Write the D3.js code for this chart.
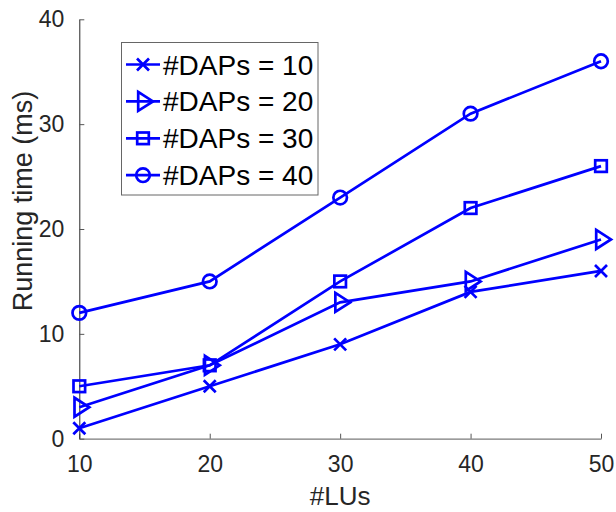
<!DOCTYPE html>
<html>
<head>
<meta charset="utf-8">
<script src="https://cdn.jsdelivr.net/npm/d3@7"></script>
<style>
  body { margin: 0; background: #fff; }
  svg { display: block; font-family: "Liberation Sans", Arial, sans-serif; }
</style>
</head>
<body>
<svg id="chart"></svg>
<script>
// data
var lus = [10, 20, 30, 40, 50];
var daps10 = [1, 5, 9, 14, 16];
var daps20 = [3, 7, 13, 15, 19];
var daps30 = [5, 7, 15, 22, 26];
var daps40 = [12, 15, 23, 31, 36];
var seriesNames = ["#DAPs = 10", "#DAPs = 20", "#DAPs = 30", "#DAPs = 40"];
var markerTypes = ["x", "tri", "square", "circle"];
var xTicks = [10, 20, 30, 40, 50];
var yTicks = [0, 10, 20, 30, 40];

var width = 616, height = 512;
var blue = "#0000ff";
var axisColor = "#262626";

var svg = d3.select("#chart")
  .attr("width", width)
  .attr("height", height);

//scales
var xscale = d3.scaleLinear().domain([10, 50]).range([79.3, 601]);
var yscale = d3.scaleLinear().domain([0, 40]).range([438.7, 19.3]);

// axes (ticks inward, no box)
var xAxis = d3.axisBottom(xscale).tickValues(xTicks).tickSizeInner(-5).tickSizeOuter(0).tickPadding(16.5);
var yAxis = d3.axisLeft(yscale).tickValues(yTicks).tickSizeInner(-5).tickSizeOuter(0).tickPadding(15);

var gx = svg.append("g")
  .attr("transform", "translate(0," + yscale(0) + ")")
  .call(xAxis);
gx.select(".domain").attr("stroke", "#7a7a7a").attr("stroke-width", 1.3);
gx.selectAll(".tick line").attr("stroke", "#555");
gx.selectAll(".tick text")
  .attr("fill", axisColor)
  .style("font-size", "23px")
  .attr("dy", "0.71em");

var gy = svg.append("g")
  .attr("transform", "translate(" + xscale(10) + ",0)")
  .call(yAxis);
gy.select(".domain").attr("stroke", axisColor).attr("stroke-width", 1);
gy.selectAll(".tick line").attr("stroke", "#555");
gy.selectAll(".tick text")
  .attr("fill", axisColor)
  .style("font-size", "23px");
svg.selectAll("g").attr("font-family", null).attr("font-size", null);

// axis labels
svg.append("text")
  .text("#LUs")
  .attr("x", (xscale(10) + xscale(50)) / 2)
  .attr("y", 505)
  .attr("text-anchor", "middle")
  .attr("fill", axisColor)
  .style("font-size", "26px");

svg.append("text")
  .text("Running time (ms)")
  .attr("transform", "translate(32,201) rotate(-90)")
  .attr("text-anchor", "middle")
  .attr("fill", axisColor)
  .style("font-size", "27px");

// marker drawing
function drawMarker(g, type, cx, cy) {
  if (type == "circle") {
    g.append("circle").attr("cx", cx).attr("cy", cy).attr("r", 6.8);
  } else if (type == "square") {
    g.append("rect").attr("x", cx - 5.8).attr("y", cy - 5.8).attr("width", 11.6).attr("height", 11.6);
  } else if (type == "tri") {
    g.append("path").attr("d", "M" + (cx - 4.8) + "," + (cy - 9.5) + "L" + (cx + 10) + "," + cy + "L" + (cx - 4.8) + "," + (cy + 9.5) + "Z");
  } else {
    g.append("path").attr("d", "M" + (cx - 6) + "," + (cy - 6) + "L" + (cx + 6) + "," + (cy + 6) +
      "M" + (cx - 6) + "," + (cy + 6) + "L" + (cx + 6) + "," + (cy - 6));
  }
}

var allSeries = [daps10, daps20, daps30, daps40];
var line = d3.line()
  .x(function (d, i) { return xscale(lus[i]); })
  .y(function (d) { return yscale(d); });

allSeries.forEach(function (vals, s) {
  var g = svg.append("g")
    .attr("fill", "none")
    .attr("stroke", blue)
    .attr("stroke-width", 2.7);
  g.append("path").attr("d", line(vals));
  vals.forEach(function (v, i) {
    drawMarker(g, markerTypes[s], xscale(lus[i]), yscale(v));
  });
});

// legend
var legend = svg.append("g");
legend.append("rect")
  .attr("x", 121.5).attr("y", 42.5)
  .attr("width", 196.5).attr("height", 152.5)
  .attr("fill", "#fff")
  .attr("stroke", "#666")
  .attr("stroke-width", 1);

seriesNames.forEach(function (name, i) {
  var cy = 64.5 + i * 36.9;
  var g = legend.append("g")
    .attr("fill", "none")
    .attr("stroke", blue)
    .attr("stroke-width", 2.7);
  g.append("line").attr("x1", 126).attr("x2", 160).attr("y1", cy).attr("y2", cy);
  drawMarker(g, markerTypes[i], 143, cy);
  legend.append("text")
    .text(name)
    .attr("x", 163)
    .attr("y", cy + 10)
    .attr("fill", "#000")
    .style("font-size", "28px");
});
</script>
</body>
</html>
